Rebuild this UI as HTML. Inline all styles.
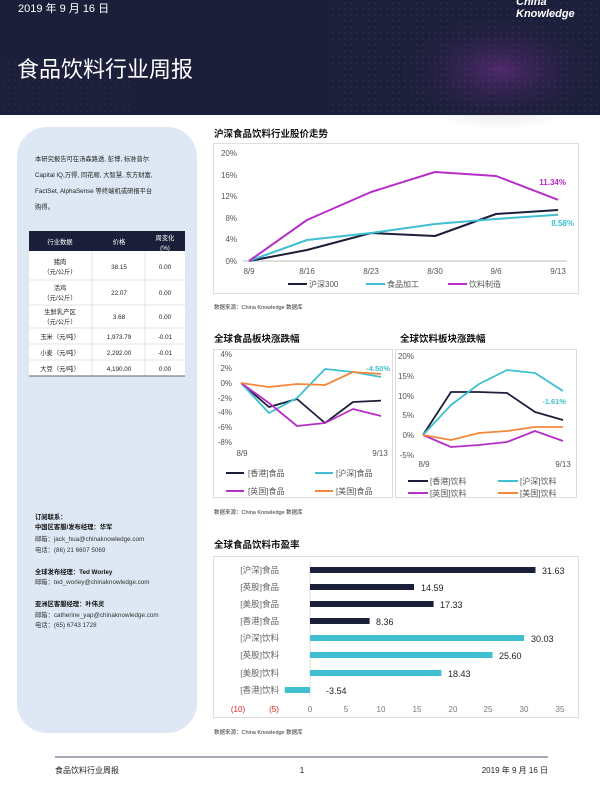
<!DOCTYPE html>
<html><head><meta charset="utf-8"><style>
body{margin:0;width:600px;height:800px;background:#fff;overflow:hidden}
svg{display:block}
text{font-family:"Liberation Sans","Noto Sans CJK SC",sans-serif}
</style></head><body>
<svg width="600" height="800" viewBox="0 0 600 800" xmlns="http://www.w3.org/2000/svg">
<defs>
<pattern id="dots" width="6" height="6" patternUnits="userSpaceOnUse"><circle cx="3" cy="3" r="0.6" fill="#6a5fb0" opacity="0.6"/></pattern>
<radialGradient id="glow" cx="0.5" cy="0.5" r="0.5"><stop offset="0" stop-color="#b03cc8" stop-opacity="0.35"/><stop offset="1" stop-color="#1c1f3a" stop-opacity="0"/></radialGradient>
</defs>
<rect x="0" y="0" width="600" height="115" fill="#1c1f3a"/>
<rect x="330" y="0" width="270" height="115" fill="url(#dots)" opacity="0.7"/>
<rect x="0" y="60" width="130" height="55" fill="url(#dots)" opacity="0.5"/>
<ellipse cx="500" cy="70" rx="110" ry="60" fill="url(#glow)"/>
<text x="18" y="12" fill="#fff" font-size="11">2019 年 9 月 16 日</text>
<text x="17" y="77" fill="#fff" font-size="22">食品饮料行业周报</text>
<text x="516" y="5" fill="#fff" font-size="11" font-weight="bold" font-style="italic">China</text>
<text x="516" y="17" fill="#fff" font-size="11" font-weight="bold" font-style="italic">Knowledge</text>

<rect x="17" y="127" width="180" height="606" rx="30" fill="#dde8f4"/>
<g font-size="6.3" fill="#222">
<text x="35" y="161">本研究报告可在汤森路透, 彭博, 标准普尔</text>
<text x="35" y="177">Capital IQ,万得, 同花顺, 大智慧, 东方财富,</text>
<text x="35" y="193">FactSet, AlphaSense 等终端机或研报平台</text>
<text x="35" y="209">购得。</text>
</g>
<rect x="29" y="231" width="156" height="20" fill="#1c1f3a"/>
<rect x="29" y="251" width="156" height="125" fill="#fff"/>
<g font-size="6.3" fill="#fff" text-anchor="middle">
<text x="60" y="244">行业数据</text><text x="119" y="244">价格</text>
<text x="165" y="240">周变化</text><text x="165" y="250">(%)</text>
</g>
<g stroke="#ccc" stroke-width="0.5">
<line x1="29" y1="280" x2="185" y2="280"/><line x1="29" y1="305" x2="185" y2="305"/>
<line x1="29" y1="328" x2="185" y2="328"/><line x1="29" y1="344" x2="185" y2="344"/>
<line x1="29" y1="360" x2="185" y2="360"/>
<line x1="92" y1="251" x2="92" y2="376"/><line x1="145" y1="251" x2="145" y2="376"/>
</g>
<line x1="29" y1="376" x2="185" y2="376" stroke="#333" stroke-width="0.8"/>
<g font-size="6.3" fill="#222" text-anchor="middle">
<text x="60" y="264">猪肉</text><text x="60" y="274">（元/公斤）</text><text x="119" y="269">38.15</text><text x="165" y="269">0.00</text>
<text x="60" y="290">活鸡</text><text x="60" y="300">（元/公斤）</text><text x="119" y="295">22.07</text><text x="165" y="295">0.00</text>
<text x="60" y="314">生鲜乳产区</text><text x="60" y="324">（元/公斤）</text><text x="119" y="319">3.68</text><text x="165" y="319">0.00</text>
<text x="60" y="339">玉米（元/吨）</text><text x="119" y="339">1,973.79</text><text x="165" y="339">-0.01</text>
<text x="60" y="355">小麦（元/吨）</text><text x="119" y="355">2,292.00</text><text x="165" y="355">-0.01</text>
<text x="60" y="371">大豆（元/吨）</text><text x="119" y="371">4,190.00</text><text x="165" y="371">0.00</text>
</g>
<g font-size="6.3" fill="#333">
<text x="35" y="519" font-weight="bold" fill="#111">订阅联系：</text>
<text x="35" y="529" font-weight="bold" fill="#111">中国区客服/发布经理：华军</text>
<text x="35" y="541">邮箱：jack_hua@chinaknowledge.com</text>
<text x="35" y="552">电话：(86) 21 6607 5069</text>
<text x="35" y="574" font-weight="bold" fill="#111">全球发布经理：Ted Worley</text>
<text x="35" y="584">邮箱：ted_worley@chinaknowledge.com</text>
<text x="35" y="606" font-weight="bold" fill="#111">亚洲区客服经理：叶伟灵</text>
<text x="35" y="617">邮箱：catherine_yap@chinaknowledge.com</text>
<text x="35" y="627">电话：(65) 6743 1728</text>
</g>

<text x="214" y="137" font-size="9.5" font-weight="bold" fill="#111">沪深食品饮料行业股价走势</text>
<rect x="213.5" y="143.5" width="365" height="150" fill="none" stroke="#ddd"/>
<g font-size="8" fill="#555" text-anchor="end">
<text x="237" y="156">20%</text><text x="237" y="178">16%</text><text x="237" y="199">12%</text>
<text x="237" y="221">8%</text><text x="237" y="242">4%</text><text x="237" y="264">0%</text>
</g>
<line x1="243" y1="261" x2="567" y2="261" stroke="#bbb"/>
<g font-size="8" fill="#555" text-anchor="middle">
<text x="249" y="274">8/9</text><text x="307" y="274">8/16</text><text x="371" y="274">8/23</text>
<text x="435" y="274">8/30</text><text x="496" y="274">9/6</text><text x="558" y="274">9/13</text>
</g>
<g fill="none" stroke-width="2" stroke-linejoin="round">
<polyline stroke="#1c1f3a" points="249,261 307,250 371,233 435,236 496,214 558,210"/>
<polyline stroke="#3fbfcf" points="249,261 307,240 371,233 435,224 496,219 558,214.7"/>
<polyline stroke="#b62ec8" points="249,261 307,220 371,192 435,172 496,176 558,199.8"/>
</g>
<text x="566" y="185" font-size="8" font-weight="bold" fill="#b62ec8" text-anchor="end">11.34%</text>
<text x="574" y="226" font-size="8" font-weight="bold" fill="#3fbfcf" text-anchor="end">8.58%</text>
<g font-size="8" fill="#555">
<line x1="288" y1="284" x2="307" y2="284" stroke="#1c1f3a" stroke-width="2"/><text x="309" y="287">沪深300</text>
<line x1="366" y1="284" x2="385" y2="284" stroke="#3fbfcf" stroke-width="2"/><text x="387" y="287">食品加工</text>
<line x1="448" y1="284" x2="467" y2="284" stroke="#b62ec8" stroke-width="2"/><text x="469" y="287">饮料制造</text>
</g>
<text x="214" y="309" font-size="5.5" fill="#333">数据来源：China Knowledge 数据库</text>

<text x="214" y="342" font-size="9.5" font-weight="bold" fill="#111">全球食品板块涨跌幅</text>
<rect x="213.5" y="349.5" width="179" height="148" fill="none" stroke="#ddd"/>
<g font-size="8" fill="#555" text-anchor="end">
<text x="232" y="357">4%</text><text x="232" y="371">2%</text><text x="232" y="386">0%</text>
<text x="232" y="401">-2%</text><text x="232" y="415">-4%</text><text x="232" y="430">-6%</text><text x="232" y="445">-8%</text>
</g>
<g fill="none" stroke-width="1.8" stroke-linejoin="round">
<polyline stroke="#1c1f3a" points="241,383 269,407 297,399 325,423 353,402 381,400.6"/>
<polyline stroke="#3fbfcf" points="241,383 269,413 297,398 325,369 353,372 381,377"/>
<polyline stroke="#b62ec8" points="241,383 269,403 297,426 325,423 353,409 381,416"/>
<polyline stroke="#f5873a" points="241,383 269,387 297,384 325,385 353,372 381,374"/>
</g>
<text x="390" y="371" font-size="7.5" font-weight="bold" fill="#3fbfcf" text-anchor="end">-4.50%</text>
<g font-size="8" fill="#555" text-anchor="middle"><text x="242" y="456">8/9</text><text x="380" y="456">9/13</text></g>
<g font-size="8" fill="#555">
<line x1="226" y1="473" x2="244" y2="473" stroke="#1c1f3a" stroke-width="2"/><text x="248" y="476">[香港]食品</text>
<line x1="315" y1="473" x2="333" y2="473" stroke="#3fbfcf" stroke-width="2"/><text x="336" y="476">[沪深]食品</text>
<line x1="226" y1="491" x2="244" y2="491" stroke="#b62ec8" stroke-width="2"/><text x="248" y="494">[英国]食品</text>
<line x1="315" y1="491" x2="333" y2="491" stroke="#f5873a" stroke-width="2"/><text x="336" y="494">[美国]食品</text>
</g>

<text x="400" y="342" font-size="9.5" font-weight="bold" fill="#111">全球饮料板块涨跌幅</text>
<rect x="395.5" y="349.5" width="181" height="148" fill="none" stroke="#ddd"/>
<g font-size="8" fill="#555" text-anchor="end">
<text x="414" y="359">20%</text><text x="414" y="379">15%</text><text x="414" y="399">10%</text>
<text x="414" y="418">5%</text><text x="414" y="438">0%</text><text x="414" y="458">-5%</text>
</g>
<g fill="none" stroke-width="1.8" stroke-linejoin="round">
<polyline stroke="#1c1f3a" points="423,435 451,392 479,392 507,393 535,412 563,420"/>
<polyline stroke="#3fbfcf" points="423,435 451,405 479,384 507,370 535,373 563,391"/>
<polyline stroke="#b62ec8" points="423,435 451,447 479,445 507,442 535,431 563,441"/>
<polyline stroke="#f5873a" points="423,435 451,440 479,433 507,431 535,427 563,427"/>
</g>
<text x="566" y="404" font-size="7.5" font-weight="bold" fill="#3fbfcf" text-anchor="end">-1.61%</text>
<g font-size="8" fill="#555" text-anchor="middle"><text x="424" y="467">8/9</text><text x="563" y="467">9/13</text></g>
<g font-size="8" fill="#555">
<line x1="408" y1="481" x2="428" y2="481" stroke="#1c1f3a" stroke-width="2"/><text x="430" y="484">[香港]饮料</text>
<line x1="498" y1="481" x2="518" y2="481" stroke="#3fbfcf" stroke-width="2"/><text x="520" y="484">[沪深]饮料</text>
<line x1="408" y1="493" x2="428" y2="493" stroke="#b62ec8" stroke-width="2"/><text x="430" y="496">[英国]饮料</text>
<line x1="498" y1="493" x2="518" y2="493" stroke="#f5873a" stroke-width="2"/><text x="520" y="496">[美国]饮料</text>
</g>
<text x="214" y="514" font-size="5.5" fill="#333">数据来源：China Knowledge 数据库</text>

<text x="214" y="548" font-size="9.5" font-weight="bold" fill="#111">全球食品饮料市盈率</text>
<rect x="213.5" y="556.5" width="365" height="161" fill="none" stroke="#ddd"/>
<line x1="310" y1="562" x2="310" y2="697" stroke="#ddd"/>
<g fill="#1c1f3a">
<rect x="310" y="567" width="225.5" height="6"/><rect x="310" y="584" width="104" height="6"/>
<rect x="310" y="601" width="123.6" height="6"/><rect x="310" y="618" width="59.6" height="6"/>
</g>
<g fill="#3fbfcf">
<rect x="310" y="635" width="214.1" height="6"/><rect x="310" y="652" width="182.5" height="6"/>
<rect x="310" y="670" width="131.4" height="6"/><rect x="284.8" y="687" width="25.2" height="6"/>
</g>
<g font-size="8.5" fill="#666" text-anchor="end">
<text x="279" y="573">[沪深]食品</text><text x="279" y="590">[英股]食品</text><text x="279" y="607">[美股]食品</text>
<text x="279" y="624">[香港]食品</text><text x="279" y="641">[沪深]饮料</text><text x="279" y="658">[英股]饮料</text>
<text x="279" y="676">[美股]饮料</text><text x="279" y="693">[香港]饮料</text>
</g>
<g font-size="9" fill="#222">
<text x="542" y="574">31.63</text><text x="421" y="591">14.59</text><text x="440" y="608">17.33</text>
<text x="376" y="625">8.36</text><text x="531" y="642">30.03</text><text x="499" y="659">25.60</text>
<text x="448" y="677">18.43</text><text x="326" y="694">-3.54</text>
</g>
<g font-size="8" text-anchor="middle" fill="#777">
<text x="238" y="712" fill="#e02020">(10)</text><text x="274" y="712" fill="#e02020">(5)</text>
<text x="310" y="712">0</text><text x="346" y="712">5</text><text x="381" y="712">10</text>
<text x="417" y="712">15</text><text x="453" y="712">20</text><text x="488" y="712">25</text>
<text x="524" y="712">30</text><text x="560" y="712">35</text>
</g>
<text x="214" y="734" font-size="5.5" fill="#333">数据来源：China Knowledge 数据库</text>

<line x1="55" y1="757" x2="548" y2="757" stroke="#8a8aa0" stroke-width="1.5"/>
<g font-size="8" fill="#222">
<text x="55" y="773">食品饮料行业周报</text>
<text x="302" y="773" text-anchor="middle">1</text>
<text x="548" y="773" text-anchor="end">2019 年 9 月 16 日</text>
</g>
</svg>
</body></html>
